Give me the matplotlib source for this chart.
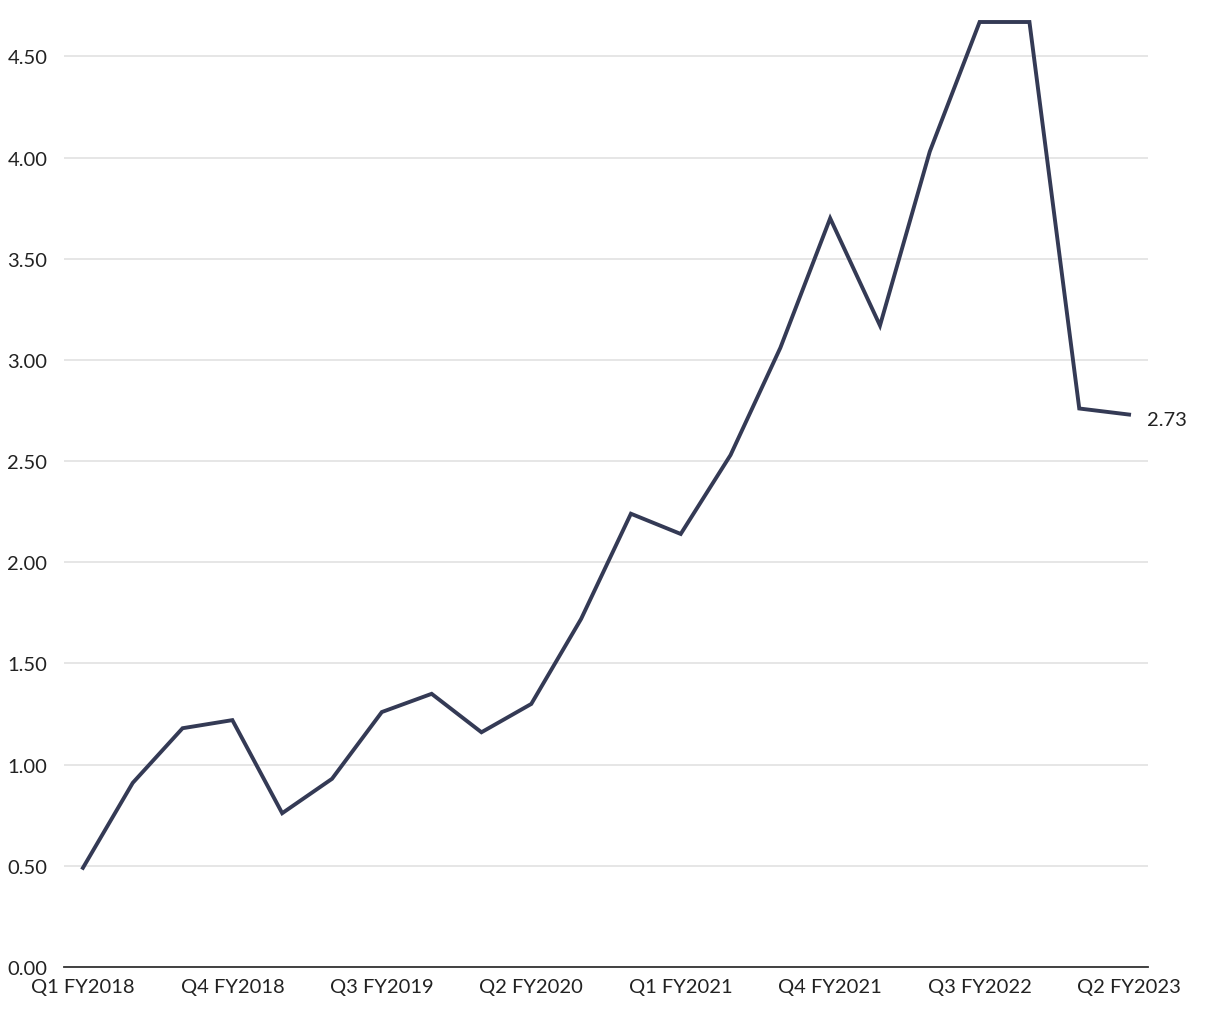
import numpy as np
import matplotlib.pyplot as plt

plt.rcParams['font.family'] = ['Lato', 'DejaVu Sans']

quarters = ['Q1 FY2018', 'Q2 FY2018', 'Q3 FY2018', 'Q4 FY2018',
            'Q1 FY2019', 'Q2 FY2019', 'Q3 FY2019', 'Q4 FY2019',
            'Q1 FY2020', 'Q2 FY2020', 'Q3 FY2020', 'Q4 FY2020',
            'Q1 FY2021', 'Q2 FY2021', 'Q3 FY2021', 'Q4 FY2021',
            'Q1 FY2022', 'Q2 FY2022', 'Q3 FY2022', 'Q4 FY2022',
            'Q1 FY2023', 'Q2 FY2023']
values = [0.49, 0.91, 1.18, 1.22, 0.76, 0.93, 1.26, 1.35, 1.16, 1.30,
          1.72, 2.24, 2.14, 2.53, 3.06, 3.70, 3.17, 4.03, 4.67, 4.67,
          2.76, 2.73]
yticks = [0.0, 0.5, 1.0, 1.5, 2.0, 2.5, 3.0, 3.5, 4.0, 4.5]

fig = plt.figure(figsize=(12.2, 10.2), dpi=100)
ax = fig.add_axes([64 / 1220, 52 / 1020, 1084 / 1220, 945 / 1020])

x = np.arange(len(values))
ax.plot(x, values, color='#343a55', linewidth=2.8, clip_on=False,
        solid_joinstyle='miter', zorder=3)
# end-of-line value label
ax.annotate(f'{values[-1]:.2f}', (x[-1], values[-1]), xytext=(18, -5),
            textcoords='offset pixels', fontsize=14.5, color='#222222',
            va='center', ha='left')

ax.set_xlim(-0.38, len(values) - 1 + 0.38)
ax.set_ylim(0, 4.67)
ax.set_yticks(yticks)
ax.set_yticklabels([f'{v:.2f}' for v in yticks])
ax.set_xticks(x[::3])
ax.set_xticklabels(quarters[::3])
ax.grid(axis='y', color='#e2e2e2', linewidth=1.2)
ax.set_axisbelow(True)
for s in ['top', 'right', 'left']:
    ax.spines[s].set_visible(False)
ax.spines['bottom'].set_color('#333333')
ax.spines['bottom'].set_linewidth(1.3)
ax.tick_params(axis='both', length=0, labelsize=14.5, labelcolor='#222222')
ax.tick_params(axis='y', pad=12)
ax.tick_params(axis='x', pad=8)

fig.savefig('out.png', dpi=100)
